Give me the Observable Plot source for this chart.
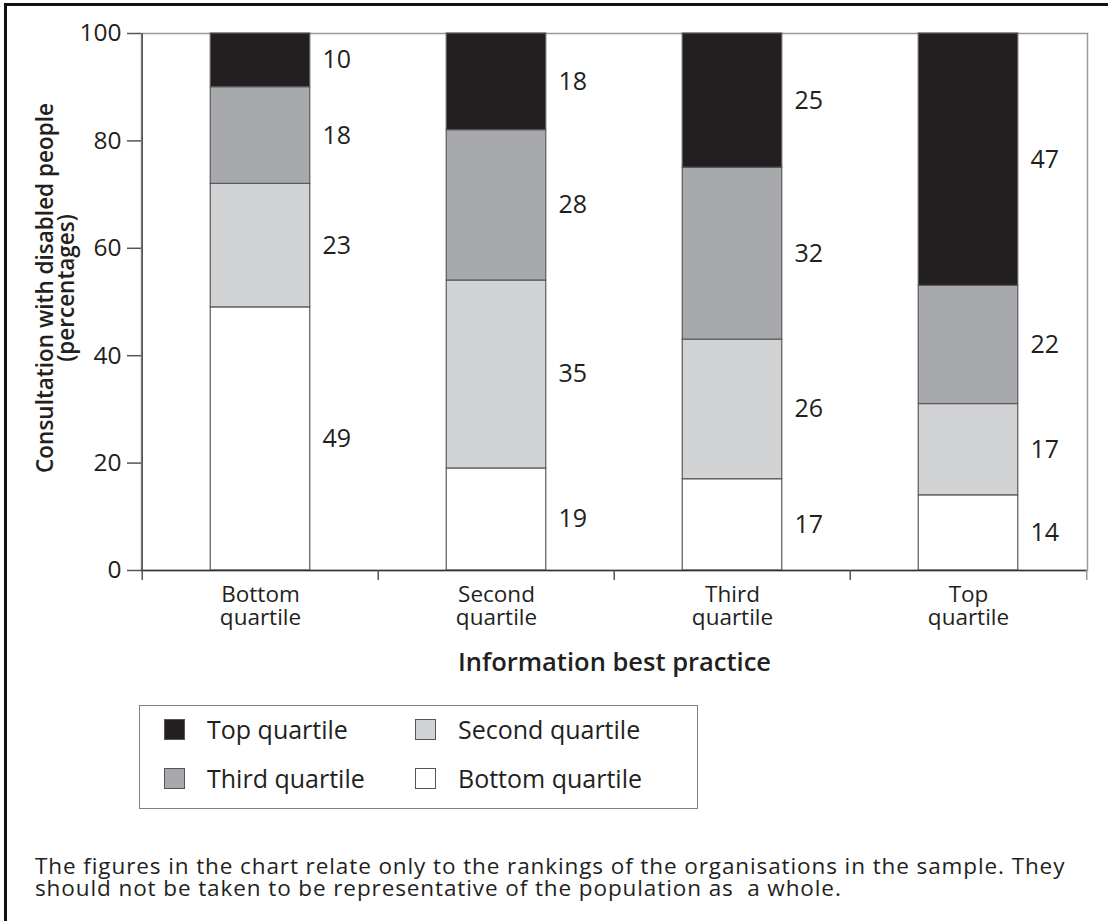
<!DOCTYPE html>
<html>
<head>
<meta charset="utf-8">
<script src="https://cdn.jsdelivr.net/npm/d3@7"></script>
<script src="https://cdn.jsdelivr.net/npm/@observablehq/plot@0.6"></script>
<style>
  html, body { margin: 0; padding: 0; background: #fff; }
  body { width: 1108px; height: 921px; position: relative; overflow: hidden; font-family: "Open Sans", "Noto Sans", sans-serif; color: #231f20; }
  #border { position: absolute; left: 4px; top: 3px; width: 1300px; height: 1200px; border-left: 3px solid #111; border-top: 3px solid #111; }
  #chart { position: absolute; left: 0; top: 0; }
  #legend { position: absolute; left: 139px; top: 705px; width: 559px; height: 104px; border: 1.5px solid #808080; box-sizing: border-box; }
  .item { position: absolute; display: flex; align-items: center; font-size: 25px; height: 30px; }
  .sw { width: 21px; height: 21px; border: 1.5px solid #555; box-sizing: border-box; margin-right: 22px; }
  #caption { position: absolute; left: 35px; top: 855px; font-size: 22.5px; letter-spacing: 0.9px; line-height: 22px; color: #231f20; white-space: nowrap; }
</style>
</head>
<body>
<div id="border"></div>
<div id="chart"></div>
<div id="legend"></div>
<div id="caption">The figures in the chart relate only to the rankings of the organisations in the sample. They<br>should not be taken to be representative of the population as&nbsp; a whole.</div>
<script>
// Categories along the x axis (information best practice)
const categories = ["Bottom quartile", "Second quartile", "Third quartile", "Top quartile"];
// Series (consultation quartile), stacked from bottom to top
const series = ["Bottom quartile", "Second quartile", "Third quartile", "Top quartile"];
const seriesColors = ["#ffffff", "#d1d3d4", "#a7a9ac", "#231f20"];
// Values (percentages) per series, one per category
const bottomValues = [49, 19, 17, 14];
const secondValues = [23, 35, 26, 17];
const thirdValues  = [18, 28, 32, 22];
const topValues    = [10, 18, 25, 47];
const yTicks = [0, 20, 40, 60, 80, 100];
const yLabel = "Consultation with disabled people\n(percentages)";
const xLabel = "Information best practice";
// Legend order as shown
const legendOrder = ["Top quartile", "Second quartile", "Third quartile", "Bottom quartile"];

const valuesBySeries = [bottomValues, secondValues, thirdValues, topValues];
const data = [];
categories.forEach((c, ci) => {
  series.forEach((s, si) => data.push({category: c, series: s, value: valuesBySeries[si][ci]}));
});

const W = 1108, H = 700, mL = 141, mR = 21, mT = 33, mB = 130;
const bw = (W - mL - mR) / categories.length;
const barInset = (bw - 100) / 2;

const chart = Plot.plot({
  width: W, height: H,
  marginLeft: mL, marginRight: mR, marginTop: mT, marginBottom: mB,
  style: {fontFamily: "'Open Sans', 'Noto Sans', sans-serif", color: "#231f20", background: "transparent"},
  x: {domain: categories, padding: 0, label: null},
  y: {domain: [0, 100], label: null},
  color: {domain: series, range: seriesColors},
  marks: [
    Plot.frame({stroke: "#9a9a9a", strokeWidth: 1.5}),
    Plot.barY(data, Plot.stackY({
      x: "category", y: "value", fill: "series",
      stroke: "#5a5a5a", strokeWidth: 1.2,
      insetLeft: barInset, insetRight: barInset
    })),
    Plot.text(data, Plot.stackY({
      x: "category", y: "value", text: "value",
      dx: 62, textAnchor: "start", fontSize: 25, fill: "#231f20"
    })),
    Plot.ruleX([categories[0]], {dx: -bw / 2, stroke: "#555", strokeWidth: 1.5}),
    Plot.ruleY([0], {stroke: "#333", strokeWidth: 1.5}),
    Plot.axisY({ticks: yTicks, tickSize: 14, tickPadding: 6, fontSize: 24.5, stroke: "#555", strokeWidth: 1.5, label: null}),
    Plot.axisX({tickSize: 10, dx: -bw / 2, text: null, stroke: "#555", strokeWidth: 1.5, label: null}),
    Plot.axisX([categories[categories.length - 1]], {tickSize: 10, dx: bw / 2, text: null, stroke: "#9a9a9a", strokeWidth: 1.5, label: null}),
    Plot.axisX({tickSize: 0, tickPadding: 16, fontSize: 22.5, lineHeight: 1.0,
      tickFormat: d => d.replace(" ", "\n"), label: null}),
    Plot.text([xLabel], {frameAnchor: "bottom", dy: 100, text: d => d, fontSize: 25.5, fontWeight: 600, fill: "#231f20"}),
    Plot.text([yLabel], {frameAnchor: "left", dx: -85, dy: -14, rotate: -90, textAnchor: "middle", text: d => d, fontSize: 22.5, fontWeight: 600, lineHeight: 0.95, fill: "#231f20"})
  ]
});
document.getElementById("chart").appendChild(chart);

// Legend
const legend = document.getElementById("legend");
const positions = [[24, 8], [275, 8], [24, 57], [275, 57]];
legendOrder.forEach((name, i) => {
  const el = document.createElement("div");
  el.className = "item";
  el.style.left = positions[i][0] + "px";
  el.style.top = positions[i][1] + "px";
  const sw = document.createElement("div");
  sw.className = "sw";
  sw.style.background = seriesColors[series.indexOf(name)];
  el.appendChild(sw);
  const t = document.createElement("span");
  t.textContent = name;
  el.appendChild(t);
  legend.appendChild(el);
});
</script>
</body>
</html>
